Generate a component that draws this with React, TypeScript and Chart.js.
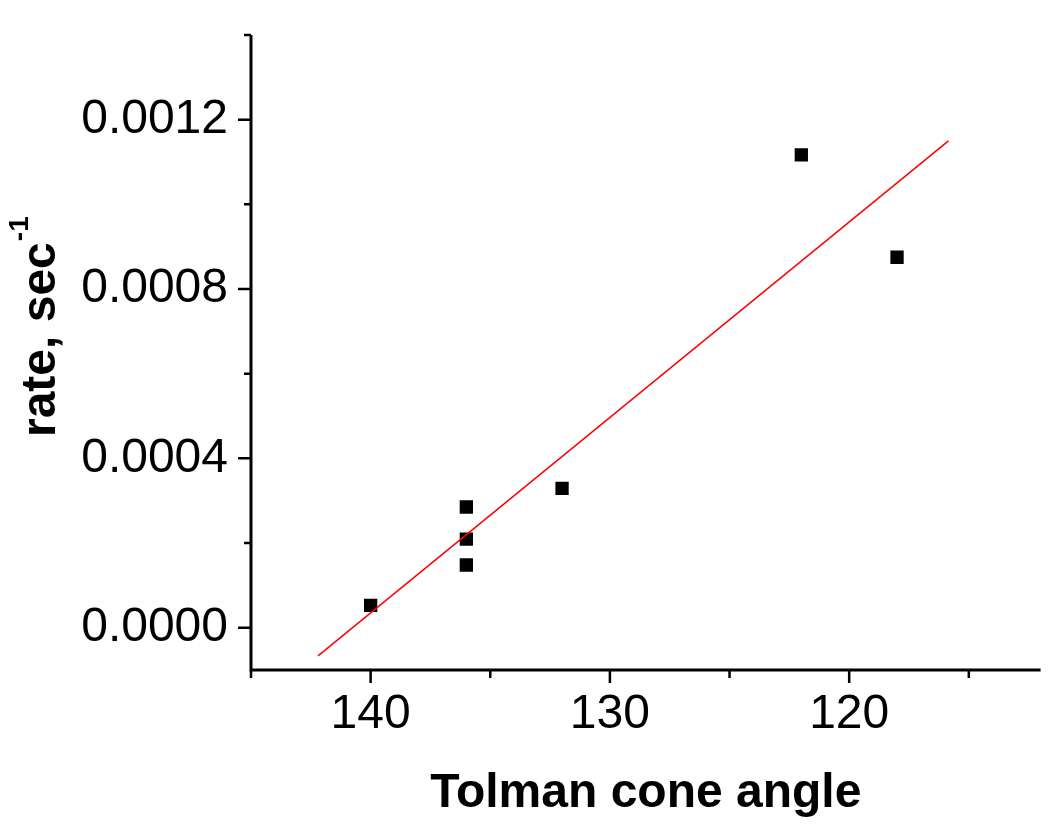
import React, { useEffect, useRef } from "react";
import { Chart, registerables } from "chart.js";

Chart.register(...registerables);

// Data
const X_VALUES = [140, 136, 136, 136, 132, 122, 118];
const Y_VALUES = [0.0000525, 0.000285, 0.000209, 0.000148, 0.000329, 0.001117, 0.000875];

// Linear fit line endpoints (as drawn in the reference)
const FIT_X = [142.2, 115.85];
const FIT_Y = [-0.0000666, 0.00115];

// Axes
const X_MIN = 112;
const X_MAX = 145;
const Y_MIN = -0.0001;
const Y_MAX = 0.0014;
const X_MAJOR = [140, 130, 120];
const X_MINOR = [145, 135, 125, 115];
const Y_MAJOR = [0, 0.0004, 0.0008, 0.0012];
const Y_MINOR = [0.0002, 0.0006, 0.001, 0.0014];

const X_TITLE = "Tolman cone angle";
const Y_TITLE = "rate, sec";
const Y_TITLE_SUP = "-1";

const FONT = '"Liberation Sans", Arial, Helvetica, sans-serif';

const axesPlugin = {
  id: "originAxes",
  afterDraw(chart: any) {
    const { ctx, chartArea, scales } = chart;
    const { left, right, top, bottom } = chartArea;
    const xs = scales.x;
    const ys = scales.y;
    ctx.save();
    ctx.strokeStyle = "#000";
    ctx.lineCap = "butt";
    ctx.lineWidth = 3;
    ctx.beginPath();
    ctx.moveTo(left, top);
    ctx.lineTo(left, bottom);
    ctx.lineTo(right, bottom);
    ctx.stroke();

    ctx.lineWidth = 2.5;
    ctx.beginPath();
    for (const v of Y_MAJOR) {
      const p = ys.getPixelForValue(v);
      ctx.moveTo(left - 13, p);
      ctx.lineTo(left, p);
    }
    for (const v of Y_MINOR) {
      const p = ys.getPixelForValue(v);
      ctx.moveTo(left - 7, p);
      ctx.lineTo(left, p);
    }
    for (const v of X_MAJOR) {
      const p = xs.getPixelForValue(v);
      ctx.moveTo(p, bottom);
      ctx.lineTo(p, bottom + 13);
    }
    for (const v of X_MINOR) {
      const p = xs.getPixelForValue(v);
      ctx.moveTo(p, bottom);
      ctx.lineTo(p, bottom + 8);
    }
    ctx.stroke();

    // Y axis title with superscript
    ctx.fillStyle = "#000";
    ctx.translate(55, 437);
    ctx.rotate(-Math.PI / 2);
    ctx.textAlign = "left";
    ctx.textBaseline = "alphabetic";
    ctx.font = `bold 48px ${FONT}`;
    ctx.fillText(Y_TITLE, 0, 0);
    const w = ctx.measureText(Y_TITLE).width;
    ctx.font = `bold 28px ${FONT}`;
    ctx.fillText(Y_TITLE_SUP, w + 1, -27);
    ctx.restore();
  },
};

export default function App() {
  const canvasRef = useRef<HTMLCanvasElement | null>(null);

  useEffect(() => {
    if (!canvasRef.current) return;
    Chart.defaults.font.family = FONT;
    Chart.defaults.color = "#000";

    const points = X_VALUES.map((x, i) => ({ x, y: Y_VALUES[i] }));
    const fit = FIT_X.map((x, i) => ({ x, y: FIT_Y[i] }));

    const chart = new Chart(canvasRef.current, {
      type: "scatter",
      data: {
        datasets: [
          {
            label: "Linear fit",
            data: fit,
            showLine: true,
            borderColor: "#ff0000",
            borderWidth: 1.5,
            pointRadius: 0,
            fill: false,
          },
          {
            label: "rate",
            data: points,
            pointStyle: "rect",
            pointRadius: 9.4,
            backgroundColor: "#000",
            borderColor: "#000",
            borderWidth: 0,
            showLine: false,
          },
        ],
      },
      options: {
        responsive: false,
        animation: false,
        events: [],
        layout: { padding: { top: 35, right: 9, left: 0, bottom: 0 } },
        plugins: {
          legend: { display: false },
          tooltip: { enabled: false },
        },
        scales: {
          x: {
            type: "linear",
            reverse: true,
            min: X_MIN,
            max: X_MAX,
            afterBuildTicks: (scale: any) => {
              scale.ticks = X_MAJOR.map((v) => ({ value: v }));
            },
            afterFit: (scale: any) => {
              scale.height = 829 - 670;
              scale.paddingLeft = 0;
              scale.paddingRight = 0;
            },
            grid: { display: false, drawTicks: false },
            border: { display: false },
            ticks: {
              font: { size: 48 },
              color: "#000",
              padding: 16,
              maxRotation: 0,
              minRotation: 0,
              callback: (v: any) => String(v),
            },
            title: {
              display: true,
              text: X_TITLE,
              color: "#000",
              font: { size: 48, weight: "bold" },
              padding: { top: 0, bottom: 6 },
            },
          },
          y: {
            type: "linear",
            min: Y_MIN,
            max: Y_MAX,
            afterBuildTicks: (scale: any) => {
              scale.ticks = Y_MAJOR.map((v) => ({ value: v }));
            },
            afterFit: (scale: any) => {
              scale.width = 251;
              scale.paddingTop = 0;
              scale.paddingBottom = 0;
            },
            grid: { display: false, drawTicks: false },
            border: { display: false },
            ticks: {
              font: { size: 48 },
              color: "#000",
              padding: 23,
              callback: (v: any) => Number(v).toFixed(4),
            },
            title: { display: false, text: Y_TITLE + Y_TITLE_SUP },
          },
        },
      },
      plugins: [axesPlugin],
    } as any);

    return () => chart.destroy();
  }, []);

  return (
    <div style={{ position: "absolute", left: 0, top: 0, width: 1050, height: 829, background: "#fff" }}>
      <canvas ref={canvasRef} width={1050} height={829} style={{ width: 1050, height: 829, display: "block" }} />
    </div>
  );
}
